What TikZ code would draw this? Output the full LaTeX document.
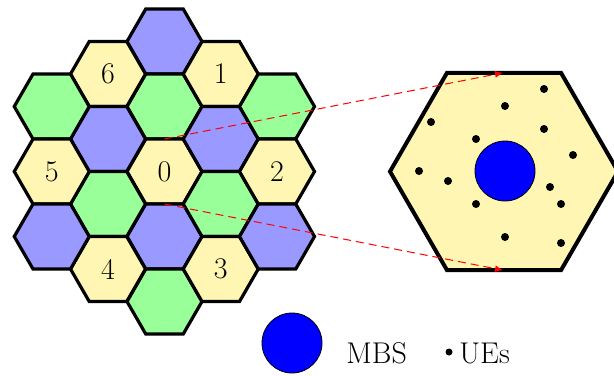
\documentclass[tikz,border=0pt]{standalone}
\usetikzlibrary{arrows.meta}
\definecolor{cellblue}{RGB}{153,153,255}
\definecolor{cellgreen}{RGB}{153,255,153}
\definecolor{cellyellow}{RGB}{255,246,179}
\tikzset{
  cell/.style={draw=black, line width=1.6pt, line join=miter},
  bigcell/.style={draw=black, line width=2pt, fill=cellyellow, line join=miter},
  celllabel/.style={font=\fontsize{15}{18}\selectfont, inner sep=0pt},
  ue/.style={fill=black},
  zoomline/.style={red, line width=0.5pt, dash pattern=on 4pt off 2.5pt, -{Latex[length=4pt,width=3.5pt]}},
  mbs/.style={draw=black, line width=0.4pt, fill=blue},
}
% one flat-topped hexagonal cell: centre x, centre y, fill colour
\newcommand\hexcell[3]{%
  \path[cell, fill=#3, shift={(#1,#2)}]
    (37.5,0) -- (18.75,32.5) -- (-18.75,32.5) -- (-37.5,0)
    -- (-18.75,-32.5) -- (18.75,-32.5) -- cycle;}
\begin{document}
\begin{tikzpicture}[x=0.5pt, y=-0.5pt]
\useasboundingbox (0,0) rectangle (614,375);

% cluster of 19 cells
% column x = 164.5
\hexcell{164.5}{41.5}{cellblue}
\hexcell{164.5}{106.5}{cellgreen}
\hexcell{164.5}{171.5}{cellyellow}
\hexcell{164.5}{236.5}{cellblue}
\hexcell{164.5}{301.5}{cellgreen}
% columns x = 108 and x = 220.75
\hexcell{108}{74}{cellyellow}
\hexcell{108}{139}{cellblue}
\hexcell{108}{204}{cellgreen}
\hexcell{108}{269}{cellyellow}
\hexcell{220.75}{74}{cellyellow}
\hexcell{220.75}{139}{cellblue}
\hexcell{220.75}{204}{cellgreen}
\hexcell{220.75}{269}{cellyellow}
% outer columns
\hexcell{51.75}{106.5}{cellgreen}
\hexcell{51.75}{171.5}{cellyellow}
\hexcell{51.75}{236.5}{cellblue}
\hexcell{277}{106.5}{cellgreen}
\hexcell{277}{171.5}{cellyellow}
\hexcell{277}{236.5}{cellblue}

% cell indices
\node[celllabel] (c0) at (164.5,171.5) {0};
\node[celllabel] (c1) at (220.75,74) {1};
\node[celllabel] (c2) at (277,171.5) {2};
\node[celllabel] (c3) at (220.75,269) {3};
\node[celllabel] (c4) at (108,269) {4};
\node[celllabel] (c5) at (51.75,171.5) {5};
\node[celllabel] (c6) at (108,74) {6};

% enlarged cell 0
\path[bigcell, shift={(504,171.5)}]
  (114,0) -- (57,98.7) -- (-57,98.7) -- (-114,0)
  -- (-57,-98.7) -- (57,-98.7) -- cycle;
\node[mbs, circle, minimum size=30pt, inner sep=0pt] (bs) at (505,171) {};

% users inside the enlarged cell
\foreach \ux/\uy in {544/89, 505/106, 431/122, 544/129, 476/139, 573/155,
                     419/171, 448/181, 550/187, 476/204, 561/204, 505/237, 561/243}
  \fill[ue] (\ux,\uy) circle (4);

% zoom connectors
\coordinate (h0top) at (164.5,139);
\coordinate (h0bot) at (164.5,204);
\coordinate (bigtop) at (503,72.8);
\coordinate (bigbot) at (503,270.2);
\draw[zoomline] (h0top) -- (bigtop);
\draw[zoomline] (h0bot) -- (bigbot);

% legend
\node[mbs, circle, minimum size=30pt, inner sep=0pt] (legbs) at (292,343) {};
\node[celllabel, anchor=base west] (legbstext) at (346,363) {MBS};
\fill[ue] (449,352) circle (3.5) coordinate (legue);
\node[celllabel, anchor=base west] (legtext) at (459,363) {UEs};
\end{tikzpicture}
\end{document}
